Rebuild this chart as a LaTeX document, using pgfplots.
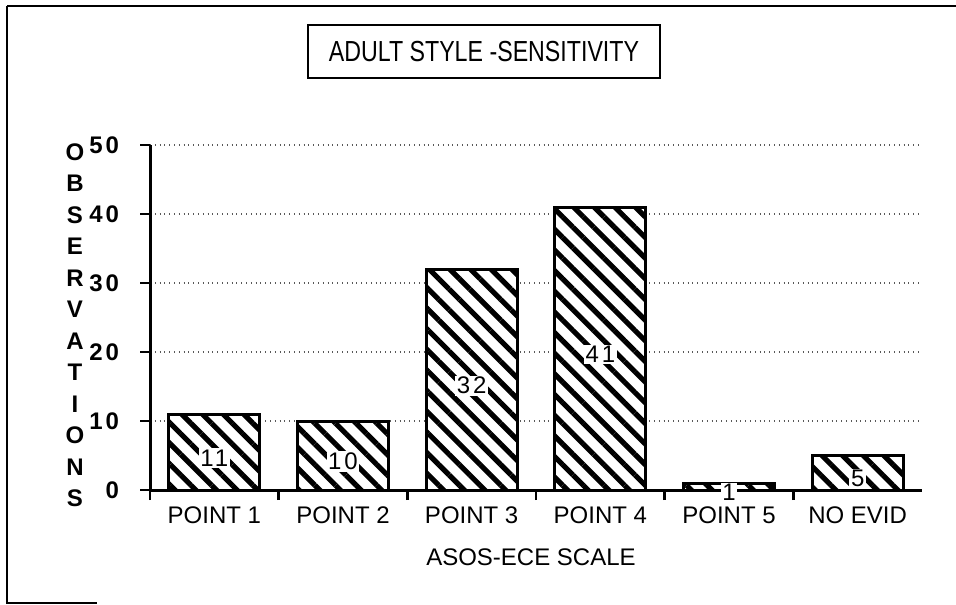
\documentclass[border=0pt]{standalone}
\usepackage{fontspec}
\setmainfont{Liberation Sans}
\newfontfamily\narrowfont{Liberation Sans}[FakeStretch=0.8]
\newfontfamily\spacedfont{Liberation Sans}[LetterSpace=12]
\usepackage{pgfplots}
\pgfplotsset{compat=1.18}
\usetikzlibrary{patterns.meta}

\begin{document}
\begin{tikzpicture}
\useasboundingbox (0,0) rectangle (478pt,-302pt);
\draw[line width=0.8pt] (3.5pt,-3pt) -- (478pt,-3pt);
\draw[line width=0.8pt] (3.5pt,-3pt) -- (3.5pt,-301.5pt) -- (48.5pt,-301.5pt);
\begin{axis}[
  at={(75pt,-245pt)}, anchor=south west,
  scale only axis, width=386pt, height=172.5pt,
  xmin=-0.5, xmax=5.5, ymin=0, ymax=50,
  ybar, bar width=45.5pt,
  axis x line*=bottom, axis y line*=left,
  axis line style={line width=1.5pt,-},
  xtick={0,...,5},
  xticklabels={POINT 1,POINT 2,POINT 3,POINT 4,POINT 5,NO EVID},
  major x tick style={draw=none},
  minor xtick={-0.5,0.5,1.5,2.5,3.5,4.5},
  minor x tick style={line width=1.2pt, black},
  minor tick length=5pt,
  major tick length=5pt,
  ytick={0,10,...,50},
  tick align=outside,
  y tick style={line width=1.2pt,black},
  ymajorgrids,
  major grid style={dotted, line width=0.7pt, black!65},
  /pgf/number format/assume math mode=true,
  xticklabel style={font=\fontsize{12}{14}\selectfont},
  yticklabel style={font=\spacedfont\bfseries\fontsize{12}{14}\selectfont, xshift=-7pt},
  title={ADULT STYLE -SENSITIVITY},
  title style={at={(axis description cs:0.4326,1.236)}, anchor=center, draw, line width=1pt,
    font=\narrowfont\fontsize{14.5}{17}\selectfont, minimum width=176pt, minimum height=26.5pt, inner sep=0pt},
  xlabel={ASOS-ECE SCALE},
  xlabel style={at={(axis description cs:0.4935,-0.194)}, anchor=center, font=\fontsize{12}{14}\selectfont},
  ylabel={O\\B\\S\\E\\R\\V\\A\\T\\I\\O\\N\\S},
  every axis y label/.style={at={(axis description cs:-0.0972,0.478)}, anchor=center, align=center,
    font=\bfseries\fontsize{12}{15.75}\selectfont},
]
\addplot[draw=black, line width=1.5pt, fill=white,
  postaction={pattern={Lines[angle=-45,distance=7.3pt,line width=2.6pt]}},
  visualization depends on={y \as \rawy},
  nodes near coords,
  every node near coord/.append style={anchor=center, fill=white, inner sep=0.8pt,
    font=\spacedfont\fontsize{12}{14}\selectfont,
    shift={(axis direction cs:0,-\rawy/2)}, yshift=-3pt}]
coordinates {(0,11) (1,10) (2,32) (3,41) (4,1) (5,5)};
\end{axis}
\end{tikzpicture}
\end{document}
